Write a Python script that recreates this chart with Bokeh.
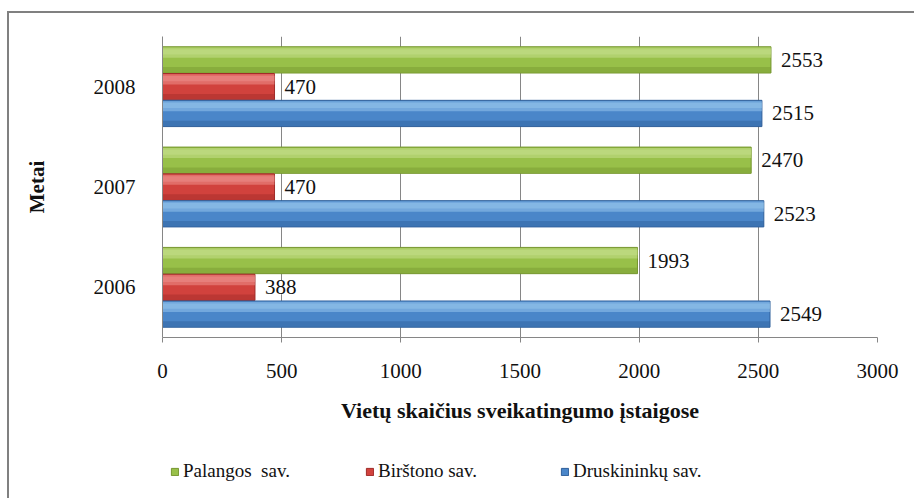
from bokeh.plotting import figure
from bokeh.layouts import column
from bokeh.models import (FactorRange, Range1d, LabelSet, ColumnDataSource, Legend, LegendItem,
                          FixedTicker)
from bokeh.transform import dodge
from bokeh.embed import file_html
from bokeh.resources import INLINE

years = ["2006", "2007", "2008"]
palangos = [1993, 2470, 2553]
birstono = [388, 470, 470]
druskininku = [2549, 2523, 2515]
x_ticks = [0, 500, 1000, 1500, 2000, 2500, 3000]
series_names = ["Palangos\u00a0 sav.", "Birštono sav.", "Druskininkų sav."]

SERIF = "Liberation Serif"
BORDER = "2px solid #808080"

p = figure(y_range=FactorRange(*years), x_range=Range1d(0, 3000),
           output_backend="svg", toolbar_location=None,
           frame_width=713, frame_height=299)
p.min_border_left = 153
p.min_border_right = 39
p.min_border_top = 23
p.min_border_bottom = 105
p.margin = (11, 0, 0, 7)
p.styles = {"border-top": BORDER, "border-left": BORDER}
p.outline_line_color = None
p.background_fill_color = "white"
p.border_fill_color = "white"

H = 0.267
series = [
    ("pal", palangos, H, ("#76962f", "#98c049", "#c6df8c")),
    ("bir", birstono, 0.0, ("#a02b28", "#d1423d", "#ee918d")),
    ("dru", druskininku, -H, ("#2f5f9a", "#4a86c9", "#95c5ec")),
]

src = ColumnDataSource(dict(years=years, pal=palangos, bir=birstono, dru=druskininku,
                            pal_t=[str(v) for v in palangos],
                            bir_t=[str(v) for v in birstono],
                            dru_t=[str(v) for v in druskininku]))

for key, vals, off, (dark, mid, light) in series:
    p.hbar(y=dodge("years", off, range=p.y_range), right=key, left=0, height=H * 0.98,
           source=src, fill_color=mid, line_color=dark, line_width=1)
    p.hbar(y=dodge("years", off - H * 0.37, range=p.y_range), right=key, left=0, height=H * 0.2,
           source=src, fill_color=dark, fill_alpha=0.45, line_color=None)
    p.hbar(y=dodge("years", off + H * 0.27, range=p.y_range), right=key, left=0, height=H * 0.38,
           source=src, fill_color=light, fill_alpha=0.55, line_color=None)
    p.hbar(y=dodge("years", off + H * 0.3, range=p.y_range), right=key, left=0, height=H * 0.2,
           source=src, fill_color=light, fill_alpha=0.5, line_color=None)

for key, vals, off, cols in series:
    labels = LabelSet(x=key, y=dodge("years", off, range=p.y_range), text=key + "_t",
                      source=src, x_offset=10, y_offset=0, text_baseline="middle",
                      text_font=SERIF, text_font_size="21px", text_color="#111111",
                      background_fill_color="white", background_fill_alpha=1.0)
    p.add_layout(labels)

# axes
p.xaxis.ticker = FixedTicker(ticks=x_ticks)
p.xaxis.axis_line_color = "#868686"
p.xaxis.major_tick_line_color = "#868686"
p.xaxis.major_tick_out = 5
p.xaxis.major_tick_in = 0
p.xaxis.minor_tick_line_color = None
p.xaxis.major_label_standoff = 21
p.xaxis.major_label_text_font = SERIF
p.xaxis.major_label_text_font_size = "21px"
p.xaxis.major_label_text_color = "#111111"
p.xaxis.axis_label = "Vietų skaičius sveikatingumo įstaigose"
p.xaxis.axis_label_text_font = SERIF
p.xaxis.axis_label_text_font_size = "22px"
p.xaxis.axis_label_text_font_style = "bold"
p.xaxis.axis_label_text_color = "#111111"
p.xaxis.axis_label_standoff = 17

p.yaxis.axis_line_color = "#868686"
p.yaxis.major_tick_line_color = None
p.yaxis.minor_tick_line_color = None
p.yaxis.major_label_standoff = 21
p.yaxis.major_label_text_font = SERIF
p.yaxis.major_label_text_font_size = "21px"
p.yaxis.major_label_text_color = "#111111"
p.yaxis.axis_label = "Metai"
p.yaxis.axis_label_text_font = SERIF
p.yaxis.axis_label_text_font_size = "21px"
p.yaxis.axis_label_text_font_style = "bold"
p.yaxis.axis_label_text_color = "#111111"
p.yaxis.axis_label_standoff = 42

p.xgrid.grid_line_color = "#868686"
p.xgrid.ticker = FixedTicker(ticks=x_ticks)
p.ygrid.grid_line_color = None

# legend strip below the chart (swatch renderers sit outside its visible range)
lg = figure(width=905, height=58, output_backend="svg", toolbar_location=None,
            x_range=Range1d(0, 1), y_range=Range1d(0, 1))
lg.axis.visible = False
lg.grid.grid_line_color = None
lg.outline_line_color = None
lg.min_border = 0
lg.margin = (0, 0, 0, 7)
lg.styles = {"border-left": BORDER}
swatches = []
for (key, vals, off, (dark, mid, light)) in series:
    swatches.append(lg.hbar(y=-5, right=key, left=0, height=0.1, source=src,
                            fill_color=mid, line_color=dark))
legend = Legend(items=[LegendItem(label=n, renderers=[r]) for n, r in zip(series_names, swatches)],
                orientation="horizontal", location=(8, 16))
legend.glyph_width = 9
legend.glyph_height = 9
legend.label_standoff = 4
legend.label_width = 174
legend.spacing = 8
legend.padding = 0
legend.margin = 0
legend.border_line_color = None
legend.background_fill_alpha = 0
legend.label_text_font = SERIF
legend.label_text_font_size = "19px"
legend.label_text_color = "#111111"
lg.add_layout(legend, "center")

layout = column(p, lg, spacing=0)
open("out.html", "w").write(file_html(layout, INLINE))
